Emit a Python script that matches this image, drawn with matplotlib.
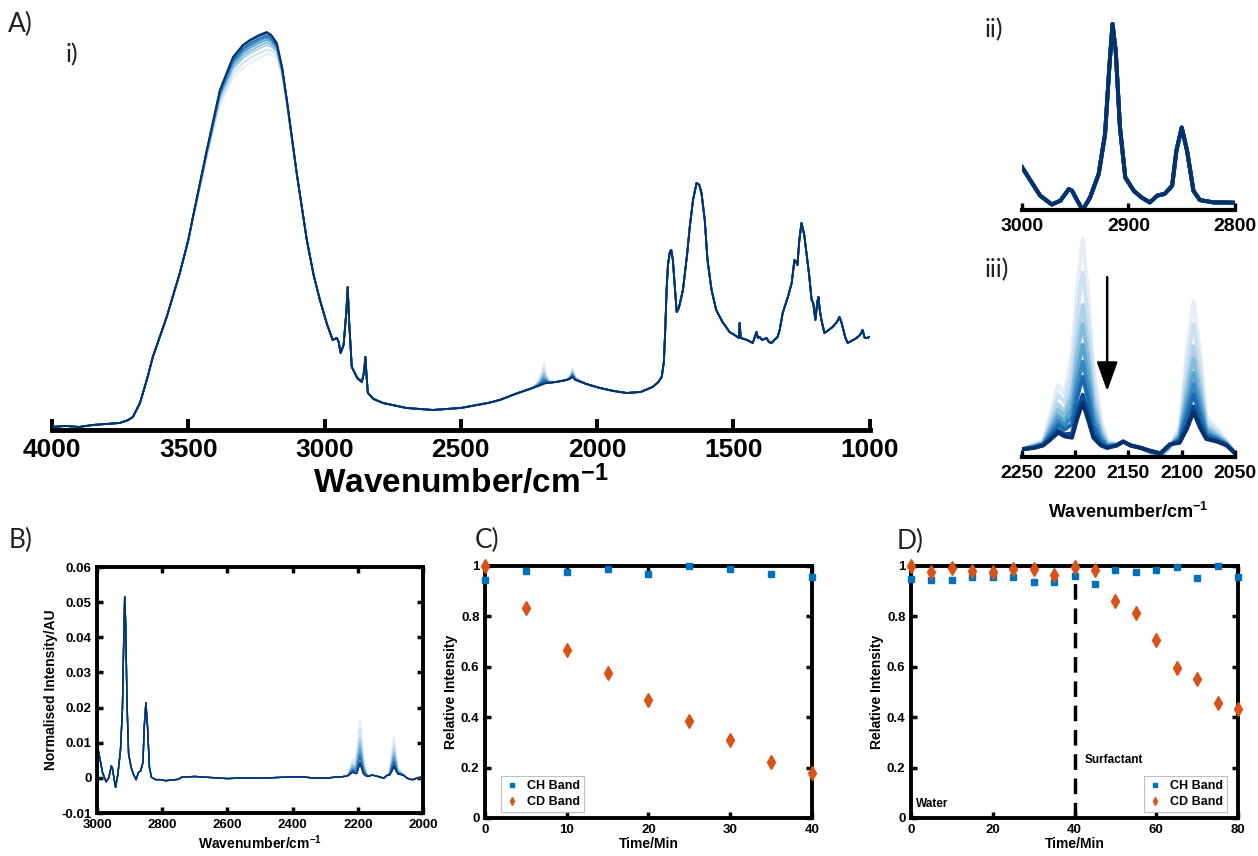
import numpy as np
import matplotlib.pyplot as plt

plt.rcParams['font.family'] = ['Liberation Sans', 'DejaVu Sans']
plt.rcParams['font.weight'] = 'bold'
plt.rcParams['axes.labelweight'] = 'bold'
plt.rcParams['mathtext.fontset'] = 'custom'
plt.rcParams['mathtext.bf'] = 'Liberation Sans:bold'
plt.rcParams['mathtext.rm'] = 'Liberation Sans:bold'
plt.rcParams['mathtext.default'] = 'bf'

# --- kinetics (panels C and D) ---
time_c = [0, 5, 10, 15, 20, 25, 30, 35, 40]
ch_c = [0.944, 0.981, 0.977, 0.989, 0.970, 0.999, 0.987, 0.968, 0.958]
cd_c = [1.000, 0.832, 0.668, 0.574, 0.470, 0.385, 0.310, 0.221, 0.179]

time_d = [0, 5, 10, 15, 20, 25, 30, 35, 40, 45, 50, 55, 60, 65, 70, 75, 80]
ch_d = [0.948, 0.944, 0.943, 0.958, 0.956, 0.956, 0.935, 0.936, 0.962,
        0.927, 0.984, 0.975, 0.983, 0.996, 0.952, 0.999, 0.958]
cd_d = [1.000, 0.975, 0.991, 0.981, 0.976, 0.988, 0.987, 0.964, 0.995,
        0.984, 0.861, 0.813, 0.705, 0.595, 0.550, 0.456, 0.434]
surfactant_t = 40

# --- panel A i: raw spectrum, last scan and change (first - last) ---
a_wn = [4000, 3950, 3900, 3850, 3800, 3751, 3720, 3703, 3677, 3650,
        3630, 3579, 3531, 3500, 3483, 3432, 3384, 3336, 3300, 3274,
        3240, 3212, 3195, 3175, 3155, 3138, 3102, 3065, 3040, 3017,
        2990, 2970, 2955, 2948, 2941, 2930, 2920, 2915, 2910, 2900,
        2880, 2863, 2855, 2850, 2846, 2841, 2820, 2786, 2700, 2603,
        2500, 2400, 2357, 2300, 2236, 2215, 2205, 2195, 2185, 2175,
        2150, 2112, 2100, 2090, 2080, 2040, 1990, 1940, 1892, 1840,
        1796, 1775, 1763, 1755, 1750, 1745, 1740, 1733, 1728, 1722,
        1714, 1708, 1700, 1685, 1670, 1660, 1648, 1635, 1625, 1617,
        1605, 1595, 1580, 1563, 1540, 1514, 1490, 1480, 1477, 1473,
        1450, 1429, 1415, 1410, 1404, 1395, 1378, 1370, 1360, 1350,
        1338, 1330, 1319, 1300, 1286, 1276, 1270, 1265, 1258, 1250,
        1240, 1232, 1222, 1213, 1207, 1199, 1192, 1188, 1183, 1177,
        1166, 1150, 1136, 1120, 1111, 1104, 1099, 1090, 1081, 1060,
        1048, 1035, 1026, 1018, 1011, 1000]
a_last = [3, 4, 3, 5, 6, 7, 10, 13, 27, 52,
          73, 113, 157, 190, 213, 280, 340, 373, 385, 390,
          395, 398, 395, 387, 362, 330, 257, 190, 155, 130,
          105, 90, 92, 88, 77, 85, 118, 143, 110, 63,
          52, 48, 58, 73, 55, 37, 31, 27, 22, 20,
          22, 27, 30, 36, 42, 44, 45, 46, 47, 47,
          48, 50, 51, 53, 50, 46, 42, 39, 37, 38,
          43, 48, 53, 68, 100, 140, 165, 178, 180, 170,
          140, 118, 122, 140, 175, 203, 230, 247, 245, 237,
          210, 170, 140, 120, 108, 98, 94, 92, 107, 92,
          90, 87, 98, 92, 93, 90, 92, 88, 87, 90,
          93, 100, 117, 133, 147, 170, 168, 165, 190, 207,
          195, 177, 155, 130, 127, 110, 128, 133, 120, 110,
          97, 100, 103, 108, 113, 108, 103, 93, 87, 90,
          92, 95, 100, 92, 92, 93]
a_change = ([0] * 10
            + [0, 0, -1, -2, -3, -8, -15, -21, -23, -23]
            + [-23, -22, -20, -15, -10, -6, -2, 0, 0, 0]
            + [0] * 20
            + [0, 0, 0, 0, 0, 5, 12, 20, 8, 2]
            + [0, 0, 3, 9, 3, 0, 0, 0, 0, 0]
            + [0] * 76)

# --- panels B, ii, iii: normalised spectrum, last scan and change ---
b_wn = [3000, 2992, 2983, 2972, 2964, 2956, 2953, 2948, 2943, 2936,
        2928, 2922, 2918, 2915, 2912, 2908, 2903, 2895, 2888, 2880,
        2873, 2866, 2859, 2855, 2850, 2845, 2839, 2833, 2820, 2808,
        2800, 2790, 2770, 2750, 2740, 2700, 2650, 2600, 2550, 2500,
        2450, 2400, 2370, 2340, 2300, 2270, 2250, 2239, 2230, 2224,
        2216, 2210, 2203, 2198, 2193, 2188, 2183, 2176, 2170, 2161,
        2155, 2148, 2138, 2130, 2120, 2111, 2102, 2095, 2089, 2083,
        2077, 2067, 2058, 2050, 2040, 2030, 2020, 2010, 2000]
b_last = [0.0098, 0.0059, 0.0015, -0.0011, 0.0000, 0.0034, 0.0029, 0.0000, -0.0027, 0.0010,
          0.0078, 0.0195, 0.0390, 0.0516, 0.0438, 0.0214, 0.0068, 0.0029, 0.0010, -0.0005,
          0.0015, 0.0020, 0.0044, 0.0146, 0.0214, 0.0146, 0.0029, 0.0002, -0.0005, -0.0005,
          -0.0006, -0.0008, -0.0006, -0.0004, 0.0002, 0.0004, 0.0001, -0.0002, 0.0000, -0.0001,
          0.0001, 0.0003, 0.0003, 0.0000, -0.0001, 0.0002, 0.0003, 0.0004, 0.0006, 0.0010,
          0.0016, 0.0013, 0.0012, 0.0027, 0.0039, 0.0026, 0.0012, 0.0006, 0.0004, 0.0006,
          0.0009, 0.0006, 0.0004, 0.0002, 0.0000, 0.0007, 0.0008, 0.0019, 0.0032, 0.0020,
          0.0011, 0.0009, 0.0006, 0.0000, -0.0004, -0.0005, -0.0001, 0.0001, 0.0002]
b_change = ([0] * 46
            + [0, 0.0003, 0.0004, 0.0018,
               0.0037, 0.0033, 0.0066, 0.0103, 0.0128, 0.0099, 0.0056, 0.0021, 0.0006, 0.0001,
               0.0000, 0.0000, 0.0000, -0.0002, -0.0004, -0.0003, 0.0013, 0.0062, 0.0086, 0.0061,
               0.0018, 0.0010, 0.0004, 0.0000]
            + [0] * 5)

blue = '#0072BD'
orange = '#D95319'

# fraction of the CD band change reached by each scan (1 = first scan, 0 = last)
cd_arr = np.array(cd_c)
frac = (cd_arr - cd_arr[-1]) / (cd_arr[0] - cd_arr[-1])
shades = plt.cm.Blues(np.linspace(0.1, 1.0, len(frac)))


def spectra(ax, wn, last, change, lw):
    last = np.array(last, dtype=float)
    change = np.array(change, dtype=float)
    for f, c in zip(frac, shades):
        ax.plot(wn, last + f * change, color=c, lw=lw)


def bottom_only(ax, spine_lw, tick_len, size):
    for s in ['top', 'left', 'right']:
        ax.spines[s].set_visible(False)
    ax.spines['bottom'].set_linewidth(spine_lw)
    ax.set_yticks([])
    ax.tick_params(axis='x', direction='in', length=tick_len, width=spine_lw * 0.8,
                   labelsize=size, pad=6)


def boxed(ax):
    for s in ax.spines.values():
        s.set_linewidth(2.8)
    ax.tick_params(direction='in', length=4, width=2.5, labelsize=9.5,
                   top=True, right=True, pad=4)


fig = plt.figure(figsize=(12.58, 8.56), dpi=100)

# A i
ax = fig.add_axes([0.0413, 0.4977, 0.650, 0.479])
spectra(ax, a_wn, a_last, a_change, 1.3)
ax.set_xlim(4000, 1000)
ax.set_ylim(0, 410)
ax.set_xticks([4000, 3500, 3000, 2500, 2000, 1500, 1000])
bottom_only(ax, 3.5, 8, 19)
ax.set_xlabel('Wavenumber/cm$^{-1}$', fontsize=24, labelpad=2)

# A ii
ax = fig.add_axes([0.8124, 0.7547, 0.1693, 0.2336])
spectra(ax, b_wn, b_last, b_change, 2.8)
ax.set_xlim(3000, 2800)
ax.set_ylim(-0.0027, 0.0557)
ax.set_xticks([3000, 2900, 2800])
bottom_only(ax, 3, 5, 14)

# A iii
ax = fig.add_axes([0.8124, 0.4661, 0.1693, 0.2629])
spectra(ax, b_wn, b_last, b_change, 2.8)
ax.set_xlim(2250, 2050)
ax.set_ylim(-0.0003, 0.0172)
ax.set_xticks([2250, 2200, 2150, 2100, 2050])
bottom_only(ax, 3, 5, 14)
ax.annotate('', xy=(2170, 0.0046), xytext=(2170, 0.0139),
            arrowprops=dict(arrowstyle='-|>,head_length=0.9,head_width=0.32',
                            color='black', lw=1.8, mutation_scale=20))
fig.text(0.8966, 0.402, 'Wavenumber/cm$^{-1}$', ha='center', va='center', fontsize=13)

# B
ax = fig.add_axes([0.0771, 0.0502, 0.2591, 0.2874])
spectra(ax, b_wn, b_last, b_change, 1.0)
ax.set_xlim(3000, 2000)
ax.set_ylim(-0.01, 0.06)
ax.set_xticks([3000, 2800, 2600, 2400, 2200, 2000])
ax.set_yticks([-0.01, 0, 0.01, 0.02, 0.03, 0.04, 0.05, 0.06])
ax.set_yticklabels(['-0.01', '0', '0.01', '0.02', '0.03', '0.04', '0.05', '0.06'])
boxed(ax)
ax.set_xlabel('Wavenumber/cm$^{-1}$', fontsize=10, labelpad=2)
ax.set_ylabel('Normalised Intensity/AU', fontsize=10, labelpad=2)

# C
ax = fig.add_axes([0.3855, 0.0444, 0.26, 0.2944])
ax.plot(time_c, ch_c, 's', color=blue, ms=4.5, clip_on=False, zorder=4, label='CH Band')
ax.plot(time_c, cd_c, 'd', color=orange, ms=7, clip_on=False, zorder=4, label='CD Band')
ax.set_xlim(0, 40)
ax.set_ylim(0, 1)
ax.set_xticks([0, 10, 20, 30, 40])
ax.set_yticks([0, 0.2, 0.4, 0.6, 0.8, 1])
ax.set_yticklabels(['0', '0.2', '0.4', '0.6', '0.8', '1'])
boxed(ax)
ax.set_xlabel('Time/Min', fontsize=10, labelpad=1)
ax.set_ylabel('Relative Intensity', fontsize=10, labelpad=2)
leg = ax.legend(loc='lower left', fontsize=9, markerscale=0.6, handlelength=1.2,
                handletextpad=0.6, borderpad=0.3, labelspacing=0.3, fancybox=False,
                bbox_to_anchor=(0.03, 0.0))
leg.get_frame().set_edgecolor('#b0b0b0')
leg.get_frame().set_linewidth(0.8)

# D
ax = fig.add_axes([0.7242, 0.0444, 0.26, 0.2944])
ax.axvline(surfactant_t, ymin=0, ymax=0.965, color='black', lw=2.5, dashes=(4.5, 2.5), zorder=2)
ax.plot(time_d, ch_d, 's', color=blue, ms=4.5, clip_on=False, zorder=4, label='CH Band')
ax.plot(time_d, cd_d, 'd', color=orange, ms=7, clip_on=False, zorder=4, label='CD Band')
ax.set_xlim(0, 80)
ax.set_ylim(0, 1)
ax.set_xticks([0, 20, 40, 60, 80])
ax.set_yticks([0, 0.2, 0.4, 0.6, 0.8, 1])
ax.set_yticklabels(['0', '0.2', '0.4', '0.6', '0.8', '1'])
boxed(ax)
ax.text(1.2, 0.055, 'Water', fontsize=8.5, va='center')
ax.text(42.5, 0.23, 'Surfactant', fontsize=8.5, va='center')
ax.set_xlabel('Time/Min', fontsize=10, labelpad=1)
ax.set_ylabel('Relative Intensity', fontsize=10, labelpad=2)
leg = ax.legend(loc='lower right', fontsize=9, markerscale=0.6, handlelength=1.2,
                handletextpad=0.6, borderpad=0.3, labelspacing=0.3, fancybox=False,
                bbox_to_anchor=(0.985, 0.0))
leg.get_frame().set_edgecolor('#b0b0b0')
leg.get_frame().set_linewidth(0.8)

# panel letters
letter = dict(family=['Lato', 'DejaVu Sans'], fontweight='normal', va='center', color='#222222')
fig.text(0.006, 0.971, 'A)', fontsize=19, **letter)
fig.text(0.052, 0.936, 'i)', fontsize=18, **letter)
fig.text(0.783, 0.965, 'ii)', fontsize=18, **letter)
fig.text(0.783, 0.685, 'iii)', fontsize=18, **letter)
fig.text(0.007, 0.369, 'B)', fontsize=19, **letter)
fig.text(0.377, 0.369, 'C)', fontsize=19, **letter)
fig.text(0.713, 0.368, 'D)', fontsize=19, **letter)

fig.savefig('out.png', dpi=100)
